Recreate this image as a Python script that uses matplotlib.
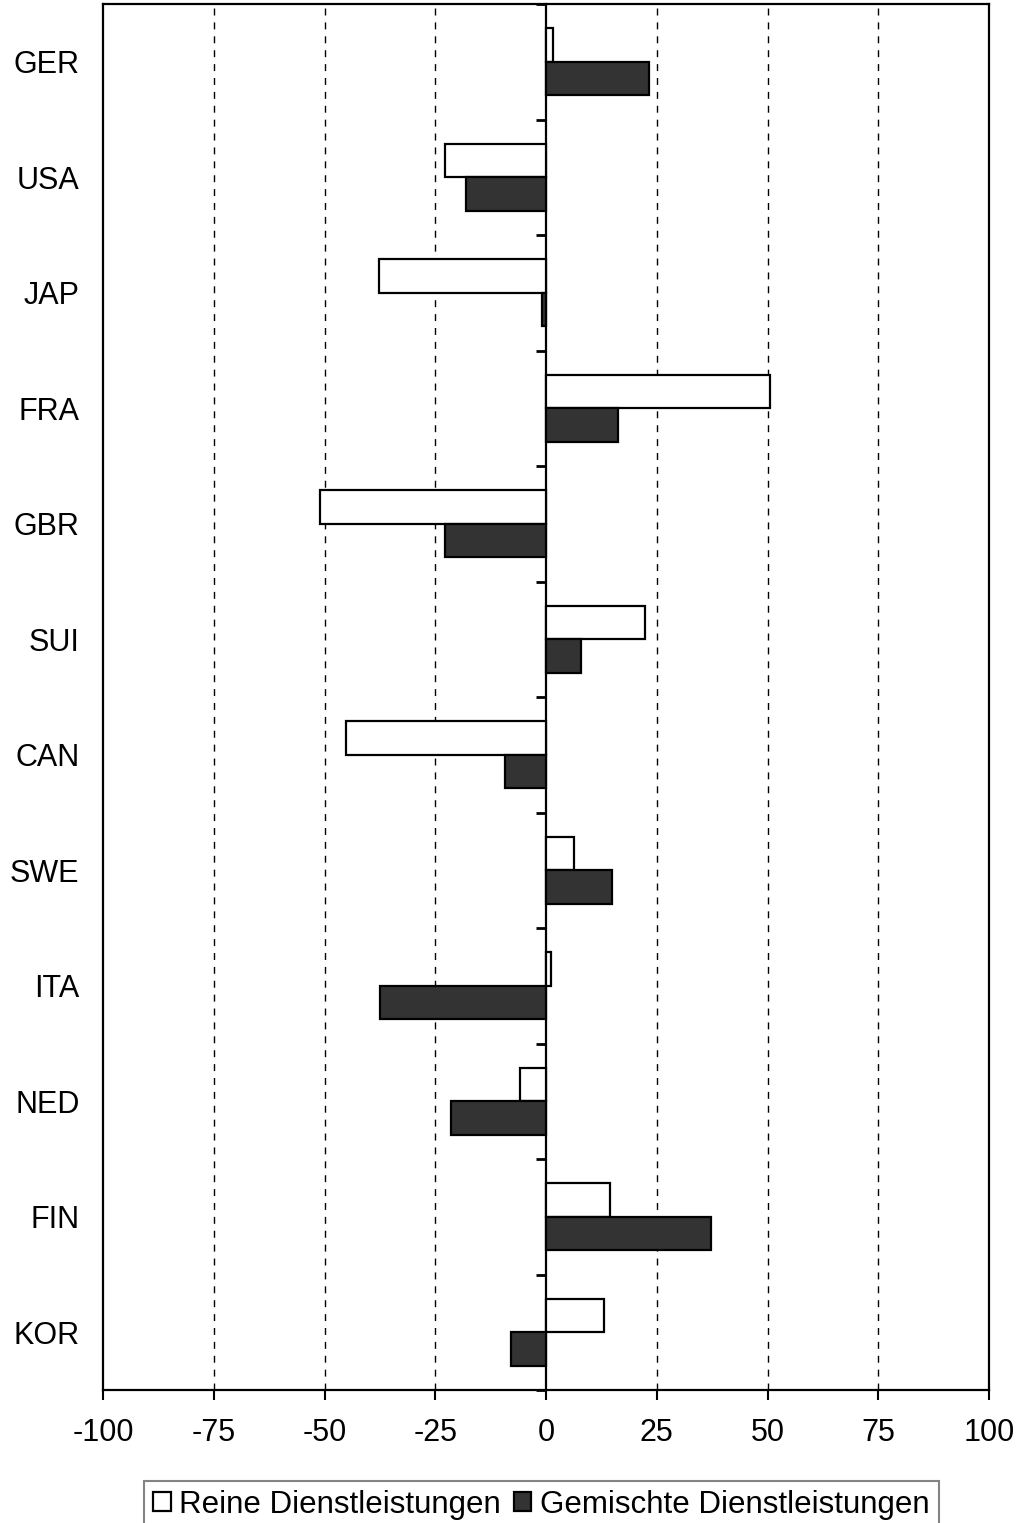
import matplotlib
matplotlib.use("Agg")
import matplotlib.pyplot as plt
import numpy as np

plt.rcParams['font.family'] = ['Liberation Sans', 'DejaVu Sans']

categories = ["GER", "USA", "JAP", "FRA", "GBR", "SUI", "CAN", "SWE", "ITA", "NED", "FIN", "KOR"]
reine = [1.6, -22.8, -37.6, 50.6, -51.0, 22.4, -45.1, 6.3, 1.2, -5.8, 14.4, 13.0]
gemischte = [23.2, -18.1, -0.9, 16.2, -22.7, 8.0, -9.3, 14.9, -37.4, -21.4, 37.3, -7.8]
xticks = [-100, -75, -50, -25, 0, 25, 50, 75, 100]
series_names = ["Reine Dienstleistungen", "Gemischte Dienstleistungen"]

FS = 22
LFS = 22.5

fig = plt.figure(figsize=(10.19, 15.23), dpi=100)
ax = fig.add_axes([103/1019, 1 - 1390/1523, (989-103)/1019, (1390-4)/1523])

y = np.arange(len(categories))
h = 0.289
ax.barh(y - h/2, reine, height=h, color="white", edgecolor="black", linewidth=1.6,
        label=series_names[0], zorder=3)
ax.barh(y + h/2, gemischte, height=h, color="#333333", edgecolor="black", linewidth=1.6,
        label=series_names[1], zorder=3)

ax.set_xlim(-100, 100)
ax.set_ylim(len(categories) - 0.5, -0.5)

for xv in xticks:
    if xv not in (-100, 0, 100):
        ax.axvline(xv, color="black", linestyle=(0, (5, 5)), linewidth=1, zorder=1)

ax.set_xticks(xticks)
ax.set_xticklabels([str(v) for v in xticks])
ax.set_yticks(y)
ax.set_yticklabels(categories)
ax.tick_params(axis="y", length=0, pad=17, labelsize=FS)
ax.tick_params(axis="x", length=7, width=1.5, direction="out", pad=13, labelsize=FS)
for sp in ax.spines.values():
    sp.set_linewidth(1.6)
    sp.set_color("black")

# category axis crossing at x = 0
sec = ax.secondary_yaxis(0.5)
sec.set_yticks(np.arange(len(categories) + 1) - 0.5)
sec.set_yticklabels([])
sec.tick_params(axis="y", length=7, width=2, direction="in")
for sp in sec.spines.values():
    sp.set_linewidth(1.6)

leg = fig.legend(loc="upper left", bbox_to_anchor=(144/1019, 1 - 1480.5/1523), ncol=2,
                 fontsize=LFS, frameon=True, fancybox=False, edgecolor="#666666",
                 handlelength=0.55, handleheight=0.55, handletextpad=0.28,
                 columnspacing=0.42, borderpad=0.3, borderaxespad=0)
leg.get_frame().set_linewidth(1.5)

fig.savefig("out.png", dpi=100, facecolor="white")
